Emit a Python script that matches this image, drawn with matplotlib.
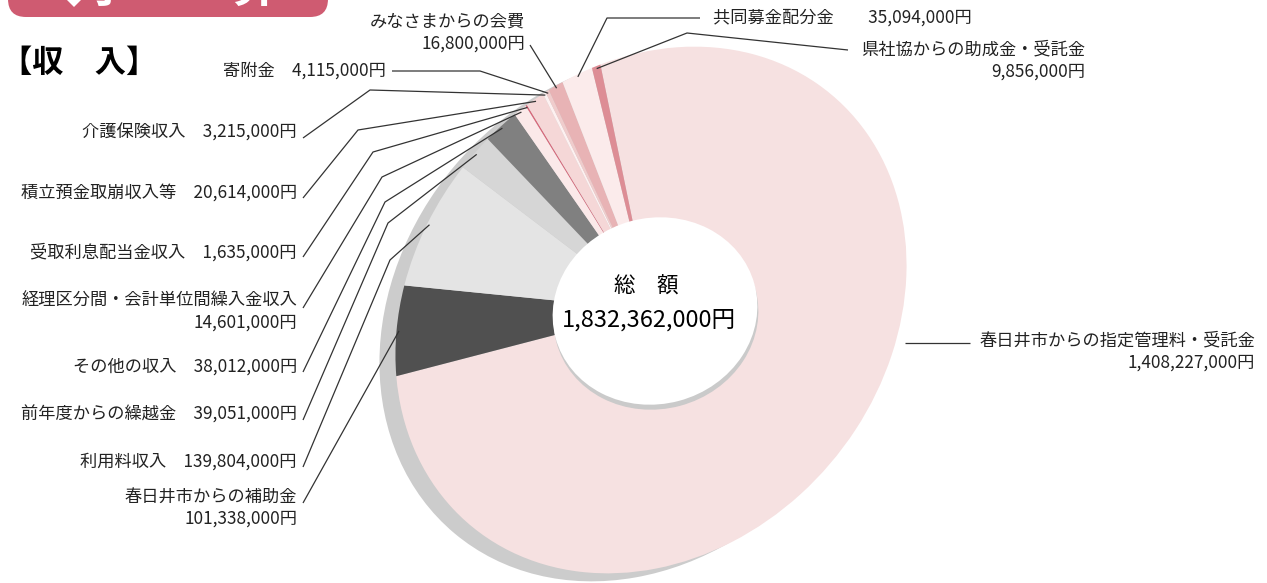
import numpy as np
import matplotlib
matplotlib.use('Agg')
import matplotlib.pyplot as plt
from matplotlib.patches import Ellipse, Circle, FancyBboxPatch, Polygon
from matplotlib.transforms import Affine2D

plt.rcParams['font.family'] = ['Noto Sans CJK JP', 'DejaVu Sans']

# income items, clockwise from the top of the ring
items = ['春日井市からの指定管理料・受託金', '春日井市からの補助金', '利用料収入',
         '前年度からの繰越金', 'その他の収入', '経理区分間・会計単位間繰入金収入',
         '受取利息配当金収入', '積立預金取崩収入等', '介護保険収入', '寄附金',
         'みなさまからの会費', '共同募金配分金', '県社協からの助成金・受託金']
amounts = [1408227000, 101338000, 139804000, 39051000, 38012000, 14601000,
           1635000, 20614000, 3215000, 4115000, 16800000, 35094000, 9856000]
colors = ['#f6e1e1', '#505050', '#e4e4e4', '#d6d6d6', '#808080', '#fbe9e9',
          '#d9677a', '#f5d7d7', '#fdf1f1', '#f0cccc', '#e8b3b5', '#fbebeb', '#dd8d95']

# label placement: (x, y, ha, two lines?, leader points from label toward ring)
layout = [
    (1255, 352, 'right', True, [(970, 343), (905, 343)]),
    (297, 508, 'right', True, [(303, 503)]),
    (297, 462, 'right', False, [(303, 467), (390, 260)]),
    (297, 415, 'right', False, [(303, 420), (388, 223)]),
    (297, 367, 'right', False, [(303, 372), (385, 202)]),
    (297, 312, 'right', True, [(303, 308), (382, 177)]),
    (297, 252, 'right', False, [(303, 257), (373, 152)]),
    (297, 193, 'right', False, [(303, 198), (358, 130)]),
    (297, 133, 'right', False, [(303, 138), (370, 90)]),
    (386, 71, 'right', False, [(392, 71), (480, 71)]),
    (525, 33, 'right', True, [(530, 45)]),
    (713, 18, 'left', False, [(700, 18), (607, 18)]),
    (1085, 61, 'right', True, [(848, 50), (687, 33)]),
]

W, H = 1267, 583
fig = plt.figure(figsize=(W / 100, H / 100), dpi=100)
ax = fig.add_axes([0, 0, 1, 1])

# tilted ring geometry (pixel coordinates, y down)
cx, cy, rx, ry, tilt = 651, 310, 281, 236, 50
pie_tf = Affine2D().scale(rx, ry).rotate_deg(tilt).scale(1, -1).translate(cx, cy)
shadow_tf = Affine2D().scale(rx, ry).rotate_deg(tilt).scale(1, -1).translate(cx - 16, cy + 8)

ax.add_patch(Circle((0, 0), 1, transform=shadow_tf + ax.transData,
                    facecolor='#cccccc', edgecolor='none', zorder=1))

wedges, _ = ax.pie(amounts, colors=colors, startangle=56.4, counterclock=False,
                   wedgeprops=dict(transform=pie_tf + ax.transData, linewidth=0, zorder=2))

# hole with its small shadow
ax.add_patch(Ellipse((656, 316), 206, 186, angle=-15, facecolor='#cacaca',
                     edgecolor='none', zorder=3))
ax.add_patch(Ellipse((655, 311), 206, 186, angle=-15, facecolor='white',
                     edgecolor='none', zorder=4))

total = sum(amounts)
ax.text(646, 287, '総　額', ha='center', va='center', fontsize=15.5, color='black', zorder=5)
ax.text(649, 320, f'{total:,}円', ha='center', va='center', fontsize=17,
        color='black', zorder=5)

# labels and leader lines
for i, (name, val) in enumerate(zip(items, amounts)):
    x, y, ha, two, pts = layout[i]
    if two:
        s = f'{name}\n{val:,}円'
    elif i == 11:
        s = f'{name}　　{val:,}円'
    else:
        s = f'{name}　{val:,}円'
    ax.text(x, y, s, ha=ha, va='center', multialignment='right', linespacing=1.3,
            fontsize=12.4, color='#222222', zorder=6)
    path = list(pts)
    if i != 0:
        w = wedges[i]
        mid = np.deg2rad((w.theta1 + w.theta2) / 2)
        path.append(tuple(pie_tf.transform((0.99 * np.cos(mid), 0.99 * np.sin(mid)))))
    px, py = zip(*path)
    ax.plot(px, py, color='#333333', lw=0.9, zorder=6, solid_capstyle='butt')

# header tab (cropped at the top)
ax.add_patch(FancyBboxPatch((8, -50), 320, 67, boxstyle='round,pad=0,rounding_size=18',
                            facecolor='#cf5b71', edgecolor='none', zorder=5))
ax.add_patch(Polygon([(64, -3), (74, 7), (84, -3), (74, -13)], closed=True,
                     facecolor='white', edgecolor='none', zorder=6))
ax.text(107, -12, '予', ha='center', va='center', fontsize=34, color='white',
        fontweight='bold', zorder=6)
ax.text(255, -12, '算', ha='center', va='center', fontsize=34, color='white',
        fontweight='bold', zorder=6)

# section title
ax.text(1, 63, '【収　入】', ha='left', va='center', fontsize=22.5,
        fontweight='bold', color='black')

ax.set_aspect('auto')
ax.set_xlim(0, W)
ax.set_ylim(H, 0)
ax.axis('off')

fig.savefig('out.png', dpi=100)
